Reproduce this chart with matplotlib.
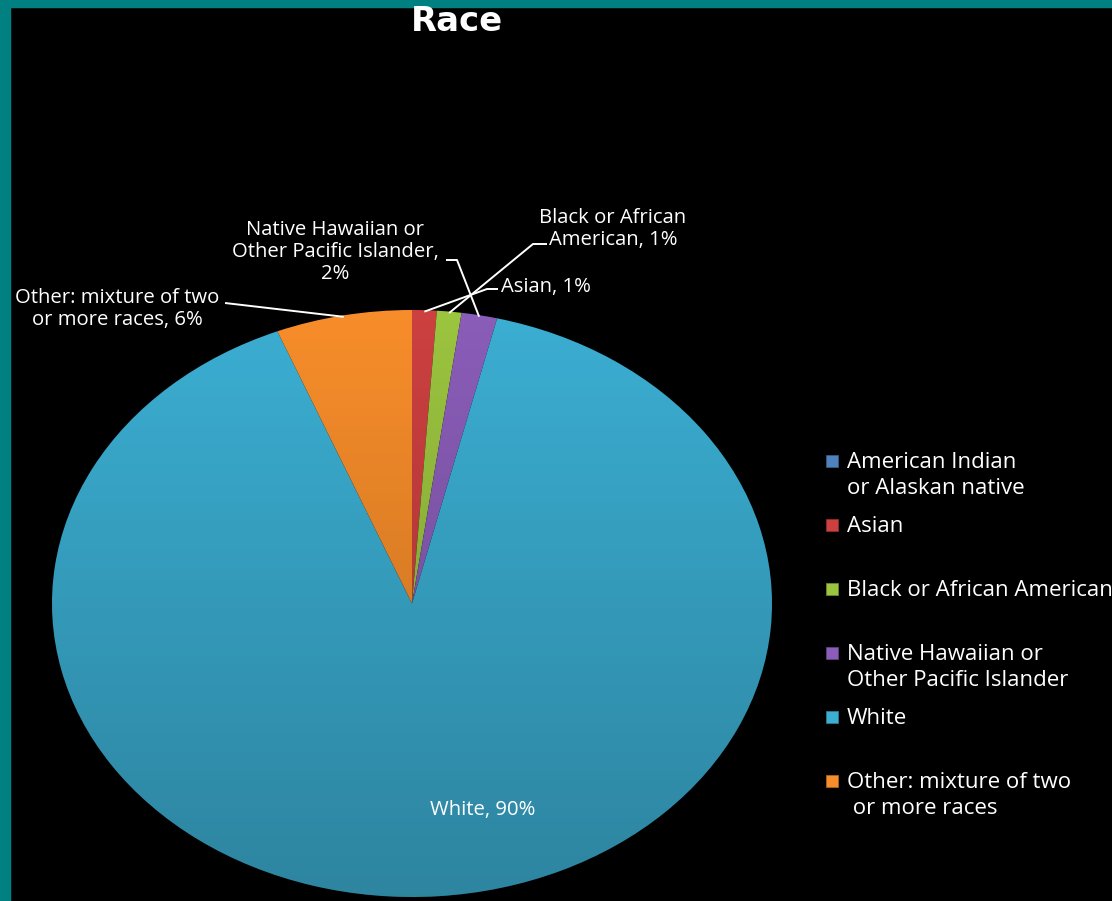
import numpy as np
import matplotlib
matplotlib.use("Agg")
import matplotlib.pyplot as plt
from matplotlib.patches import Rectangle
from matplotlib import colors as mcolors

# ---------------- data ----------------
title = "Race"
categories = ["American Indian\nor Alaskan native", "Asian", "Black or African American",
              "Native Hawaiian or\nOther Pacific Islander", "White",
              "Other: mixture of two\n or more races"]
values = [0.0, 1.1, 1.1, 1.6, 90.1, 6.1]
slice_labels = [None, "Asian, 1%", "Black or African\nAmerican, 1%",
                "Native Hawaiian or\nOther Pacific Islander,\n2%", "White, 90%",
                "Other: mixture of two\nor more races, 6%"]
colors = ["#4F81BD", "#CC4040", "#9BC43F", "#8A5DB8", "#3BAED2", "#F78D2A"]

W, H = 1112, 901
fig = plt.figure(figsize=(W / 100, H / 100), dpi=100, facecolor="black")

# teal frame on left and top
fig.patches.append(Rectangle((0, 0), 10 / W, 1, transform=fig.transFigure, color="#008080", zorder=0))
fig.patches.append(Rectangle((0, 1 - 7 / H), 1, 7 / H, transform=fig.transFigure, color="#008080", zorder=0))

# pie axes (elliptical pie)
px_l, px_r, px_t, px_b = 52, 772, 310, 897
ax = fig.add_axes([px_l / W, 1 - px_b / H, (px_r - px_l) / W, (px_b - px_t) / H])
ax.set_facecolor("none")
wedges, _ = ax.pie(values, colors=colors, startangle=90, counterclock=False,
                   radius=1.0, wedgeprops=dict(linewidth=0))
ax.set_aspect("auto")

# shading gradient (lighter top, darker bottom) clipped to each wedge
grad = np.zeros((256, 2, 4))
grad[..., 3] = np.linspace(0.0, 0.24, 256)[:, None]
for w in wedges:
    im = ax.imshow(grad, extent=(-1, 1, -1, 1), origin="upper", aspect="auto",
                   interpolation="bilinear", zorder=2)
    im.set_clip_path(w)
ax.set_xlim(-1, 1)
ax.set_ylim(-1, 1)
ax.axis("off")

# pixel -> data helpers
cx, cy = (px_l + px_r) / 2, (px_t + px_b) / 2
rx, ry = (px_r - px_l) / 2, (px_b - px_t) / 2
def P(px, py):
    return ((px - cx) / rx, (cy - py) / ry)

def edge_point(w, frac=0.5, r=0.995):
    ang = np.deg2rad(w.theta1 + frac * (w.theta2 - w.theta1))
    return (r * np.cos(ang), r * np.sin(ang))

lab_font = dict(family=["Open Sans", "DejaVu Sans"], color="white", fontsize=14.6,
                linespacing=1.15)

def leader(points_px, wedge):
    pts = [P(*p) for p in points_px] + [edge_point(wedge)]
    xs, ys = zip(*pts)
    ax.plot(xs, ys, color="white", lw=1.4, solid_capstyle="butt", clip_on=False, zorder=5)

# Asian
ax.text(*P(501, 287), slice_labels[1], ha="left", va="center", **lab_font)
leader([(498, 289), (487, 289)], wedges[1])
# Black or African American
ax.text(*P(613, 229), slice_labels[2], ha="center", va="center", **lab_font)
leader([(547, 244), (533, 244)], wedges[2])
# Native Hawaiian
ax.text(*P(335, 252), slice_labels[3], ha="center", va="center", **lab_font)
leader([(446, 260), (457, 260)], wedges[3])
# Other
ax.text(*P(117, 309), slice_labels[5], ha="center", va="center", **lab_font)
leader([(225, 303)], wedges[5])
# White
ax.text(*P(483, 810), slice_labels[4], ha="center", va="center", **lab_font)

# title
fig.text(457 / W, 1 - 21.5 / H, title, ha="center", va="center", color="white",
         fontsize=24.4, fontweight="bold", family=["DejaVu Sans"])

# legend (manual, uniform spacing)
leg_x_sq, leg_x_txt = 826, 847
leg_y0, leg_dy, line_dy = 461, 64, 25
for i, (lab, col) in enumerate(zip(categories, colors)):
    y = leg_y0 + i * leg_dy
    fig.patches.append(Rectangle((leg_x_sq / W, 1 - (y + 6) / H), 12 / W, 12 / H,
                                 transform=fig.transFigure, facecolor=col,
                                 edgecolor=mcolors.to_hex(np.array(mcolors.to_rgb(col)) * 0.7),
                                 lw=0.6))
    for k, line in enumerate(lab.split("\n")):
        fig.text(leg_x_txt / W, 1 - (y + 7.5 + k * line_dy) / H, line, ha="left",
                 va="baseline", color="white", fontsize=16.0,
                 family=["Open Sans", "DejaVu Sans"])

fig.savefig("out.png", dpi=100, facecolor="black")
